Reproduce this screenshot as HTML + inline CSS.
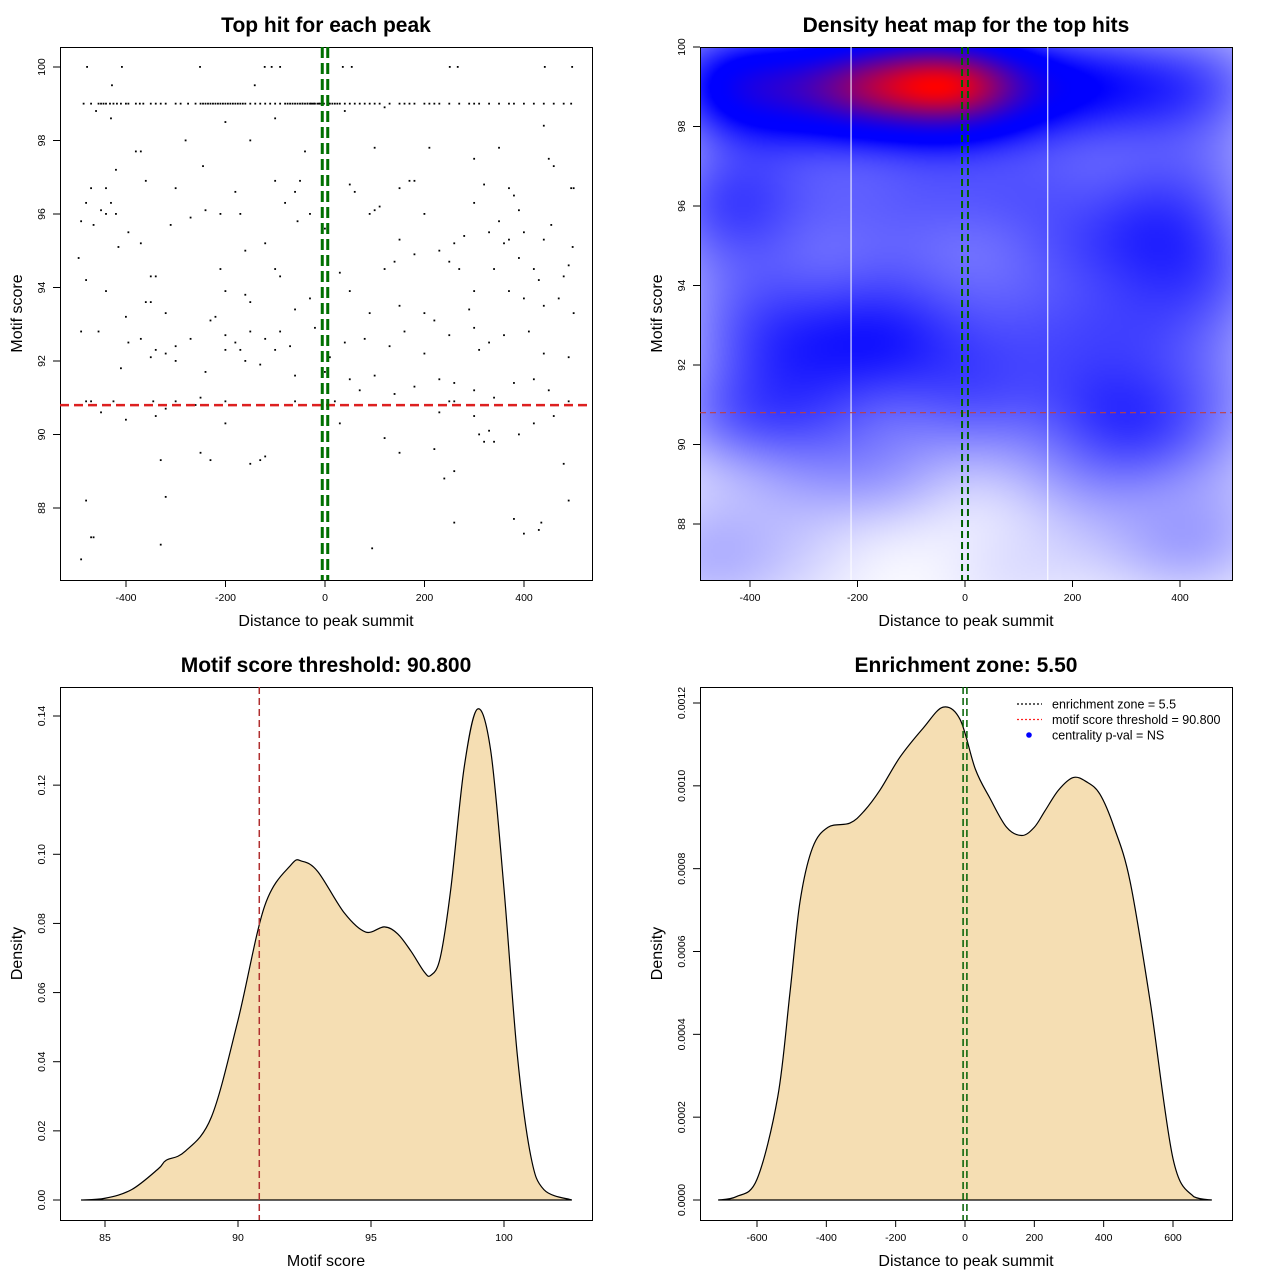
<!DOCTYPE html>
<html><head><meta charset="utf-8">
<style>
html,body{margin:0;padding:0;background:#fff;}
#wrap{position:relative;width:1280px;height:1280px;overflow:hidden;font-family:"Liberation Sans",Arial,sans-serif;}
#heat{position:absolute;left:700px;top:47px;width:532px;height:533px;}
svg{position:absolute;left:0;top:0;}
text{font-family:"Liberation Sans",Arial,sans-serif;}
</style></head>
<body>
<div id="wrap">
<canvas id="heat" width="266" height="267"></canvas>
<svg id="svg" width="1280" height="1280" xmlns="http://www.w3.org/2000/svg"></svg>
</div>
<script>
// ---------- DATA ----------
const scatterX = [-478,-408,-251,-121,-107,-90,36,54,251,267,442,497,-428,-141,
-485,-470,-455,-450,-445,-440,-432,-425,-418,-410,-400,-395,-380,-372,-365,-350,-340,-330,-320,-300,-290,-275,-260,-250,-245,-240,-235,-230,-225,-220,-215,-210,-205,-200,-195,-190,-185,-180,-175,-170,-165,-160,-150,-140,-130,-120,-110,-100,-90,-80,-70,-60,-50,-45,-40,-35,-30,-25,-20,-15,-10,-5,5,10,15,20,25,30,40,50,60,70,80,90,100,110,130,150,160,170,180,200,210,220,230,250,270,290,300,310,330,350,370,380,400,420,440,460,480,495,
-75,-65,-55,-45,-35,-28,-22,-12,-2,8,
-460,-430,-200,-100,40,120,440,
-420,-380,-370,-280,-245,-150,-40,100,210,300,350,450,460,
-480,-470,-440,-430,-360,-300,-180,-100,-50,-60,50,60,110,150,170,180,300,320,370,380,390,500,495,
-490,-465,-450,-440,-420,-395,-310,-270,-240,-210,-170,-80,-55,-30,0,90,100,150,200,260,280,330,350,360,370,400,440,455,498,
-495,-480,-415,-370,-340,-350,-210,-160,-120,-100,-90,30,120,140,180,230,250,270,340,390,420,430,480,490,
-440,-400,-360,-350,-320,-200,-220,-160,-150,-60,-30,50,90,150,200,220,290,300,370,400,440,470,500,
-490,-455,-395,-370,-340,-300,-270,-230,-200,-180,-150,-120,-90,-70,-20,10,40,80,130,160,200,250,300,310,330,360,410,440,490,
-410,-350,-320,-300,-240,-200,-170,-160,-130,-100,-60,0,50,70,100,140,180,230,260,300,340,380,420,450,
-480,-470,-440,-425,-380,-345,-320,-300,-260,-250,-200,-60,-50,-10,20,250,260,300,490,
-450,-400,-340,-200,30,120,230,300,310,320,330,390,420,460,
-330,-250,-230,-150,-130,-120,150,220,240,260,340,480,
-480,-320,-470,-465,-490,-330,95,260,380,400,430,435,490];
const scatterY = [100,100,100,100,100,100,100,100,100,100,100,100,99.5,99.5,
99,99,99,99,99,99,99,99,99,99,99,99,99,99,99,99,99,99,99,99,99,99,99,99,99,99,99,99,99,99,99,99,99,99,99,99,99,99,99,99,99,99,99,99,99,99,99,99,99,99,99,99,99,99,99,99,99,99,99,99,99,99,99,99,99,99,99,99,99,99,99,99,99,99,99,99,99,99,99,99,99,99,99,99,99,99,99,99,99,99,99,99,99,99,99,99,99,99,99,99,
99,99,99,99,99,99,99,99,99,99,
98.8,98.6,98.5,98.6,98.8,98.9,98.4,
97.2,97.7,97.7,98,97.3,98,97.7,97.8,97.8,97.5,97.8,97.5,97.3,
96.3,96.7,96.7,96.3,96.9,96.7,96.6,96.9,96.9,96.6,96.8,96.6,96.2,96.7,96.9,96.9,96.3,96.8,96.7,96.5,96.1,96.7,96.7,
95.8,95.7,96.1,96,96,95.5,95.7,95.9,96.1,96,96,96.3,95.8,96,95.6,96,96.1,95.3,96,95.2,95.4,95.5,95.8,95.2,95.3,95.5,95.3,95.7,95.1,
94.8,94.2,95.1,95.2,94.3,94.3,94.5,95,95.2,94.5,94.3,94.4,94.5,94.7,94.9,95,94.7,94.5,94.5,94.8,94.5,94.2,94.3,94.6,
93.9,93.2,93.6,93.6,93.3,93.9,93.2,93.8,93.6,93.4,93.7,93.9,93.3,93.5,93.3,93.1,93.4,93.9,93.9,93.7,93.5,93.7,93.3,
92.8,92.8,92.5,92.6,92.3,92.4,92.6,93.1,92.7,92.5,92.8,92.6,92.8,92.4,92.9,92.1,92.5,92.6,92.4,92.8,92.2,92.7,92.9,92.3,92.5,92.7,92.8,92.2,92.1,
91.8,92.1,92.2,92,91.7,92.3,92.3,92,91.9,92.3,91.6,91.7,91.5,91.2,91.6,91.1,91.3,91.5,91.4,91.2,91,91.4,91.5,91.2,
90.9,90.9,90.8,90.9,90.8,90.9,90.7,90.9,90.8,91,90.9,90.9,90.8,90.8,90.9,90.9,90.9,90.8,90.9,
90.6,90.4,90.5,90.3,90.3,89.9,90.6,90.5,90,89.8,90.1,90,90.3,90.5,
89.3,89.5,89.3,89.2,89.3,89.4,89.5,89.6,88.8,89,89.8,89.2,
88.2,88.3,87.2,87.2,86.6,87,86.9,87.6,87.7,87.3,87.4,87.6,88.2];

const scoreX = [84.1,85,86,87,87.3,88,89,90,91,92,92.4,93,94,94.8,95.5,96,96.5,97,97.25,97.6,98,98.5,99,99.5,100,100.5,101,101.5,102.55];
const scoreY = [0,0.0005,0.003,0.009,0.0115,0.014,0.024,0.052,0.085,0.097,0.098,0.095,0.083,0.0775,0.079,0.077,0.072,0.066,0.065,0.07,0.09,0.125,0.142,0.13,0.09,0.042,0.013,0.003,0];

const distX = [-712,-660,-600,-540,-505,-476,-440,-395,-332,-290,-245,-187,-120,-63,-14,30,72,120,164,200,231,270,312,350,389,430,476,534,600,660,712];
const distY = [0,0.000008,0.00005,0.00025,0.0005,0.00072,0.00085,0.0009,0.00091,0.00094,0.00099,0.00107,0.00114,0.00119,0.00116,0.00104,0.00097,0.0009,0.00088,0.0009,0.00094,0.00099,0.00102,0.00101,0.00098,0.0009,0.00077,0.00048,0.0001,0.000008,0];

const ticks1X=[-400,-200,0,200,400], ticks1Y=[88,90,92,94,96,98,100];
const ticks2X=[-400,-200,0,200,400], ticks2Y=[88,90,92,94,96,98,100];
const ticks3X=[85,90,95,100], ticks3Y=[0,0.02,0.04,0.06,0.08,0.10,0.12,0.14];
const ticks3YL=["0.00","0.02","0.04","0.06","0.08","0.10","0.12","0.14"];
const ticks4X=[-600,-400,-200,0,200,400,600], ticks4Y=[0,0.0002,0.0004,0.0006,0.0008,0.0010,0.0012];
const ticks4YL=["0.0000","0.0002","0.0004","0.0006","0.0008","0.0010","0.0012"];
const threshold=90.8, zone=5.5;

// ---------- HELPERS ----------
const NS="http://www.w3.org/2000/svg";
const svg=document.getElementById('svg');
function scale(d0,d1,p0,p1){return v=>p0+(v-d0)/(d1-d0)*(p1-p0);}
function mk(tag,attrs,parent){const e=document.createElementNS(NS,tag);for(const k in attrs)e.setAttribute(k,attrs[k]);(parent||svg).appendChild(e);return e;}
function txt(s,attrs,parent){const e=mk('text',attrs,parent);e.textContent=s;return e;}
function spline(pts){let d="M"+pts[0][0]+","+pts[0][1];for(let i=0;i<pts.length-1;i++){const p0=pts[Math.max(0,i-1)],p1=pts[i],p2=pts[i+1],p3=pts[Math.min(pts.length-1,i+2)];const c1=[p1[0]+(p2[0]-p0[0])/6,Math.min(1200,p1[1]+(p2[1]-p0[1])/6)],c2=[p2[0]-(p3[0]-p1[0])/6,Math.min(1200,p2[1]-(p3[1]-p1[1])/6)];d+=" C"+c1[0]+","+c1[1]+" "+c2[0]+","+c2[1]+" "+p2[0]+","+p2[1];}return d;}

function frame(box,title,xlab,ylab,xt,xtl,yt,ytl,sx,sy,prefix){
  const g=mk('g',{});
  
  
  const r=mk('rect',{x:box[0]+0.5,y:box[1]+0.5,width:box[2]-box[0],height:box[3]-box[1],fill:'none',stroke:'#000','stroke-width':1},g);
  
  
  const t=txt(title,{x:(box[0]+box[2])/2,y:box[1]-15,'text-anchor':'middle','font-size':21,'font-weight':'bold'},g);
  
  
  const xl=txt(xlab,{x:(box[0]+box[2])/2,y:box[3]+46,'text-anchor':'middle','font-size':16},g);
  
  
  const cy=(box[1]+box[3])/2;
  const yl=txt(ylab,{x:box[0]-38,y:cy,'text-anchor':'middle','font-size':16,transform:'rotate(-90 '+(box[0]-38)+' '+cy+')'},g);
  
  
  const xa=mk('g',{},g);
  
  
  const x0=sx(xt[0]),x1=sx(xt[xt.length-1]);
  mk('line',{x1:x0,x2:x1,y1:box[3]+0.5,y2:box[3]+0.5,stroke:'#000'},xa);
  xt.forEach((v,i)=>{const x=sx(v);mk('line',{x1:x,x2:x,y1:box[3],y2:box[3]+7,stroke:'#000'},xa);
    const l=txt(xtl[i],{x:x,y:box[3]+21,'text-anchor':'middle','font-size':10.5},xa);
    
    });
  const ya=mk('g',{},g);
  
  
  mk('line',{x1:box[0]+0.5,x2:box[0]+0.5,y1:sy(yt[0]),y2:sy(yt[yt.length-1]),stroke:'#000'},ya);
  yt.forEach((v,i)=>{const y=sy(v);mk('line',{x1:box[0]-7,x2:box[0],y1:y,y2:y,stroke:'#000'},ya);
    const lx=box[0]-15;
    const l=txt(ytl[i],{x:lx,y:y,'text-anchor':'middle','font-size':10.5,transform:'rotate(-90 '+lx+' '+y+')'},ya);
    
    });
  return g;
}

// ---------- PANEL 1 ----------
const b1=[60,47,592,580];
const sx1=scale(-400,400,126,524), sy1=scale(88,100,508,67);
const g1=frame(b1,'Top hit for each peak','Distance to peak summit','Motif score',ticks1X,ticks1X.map(String),ticks1Y,ticks1Y.map(String),sx1,sy1,'scatter');
const pts=mk('g',{},g1);


for(let i=0;i<scatterX.length;i++){
  const c=mk('rect',{x:sx1(scatterX[i])-1,y:sy1(scatterY[i])-1,width:1.8,height:1.8,fill:'#000'},pts);
  
  
}
const th1=mk('line',{x1:b1[0],x2:b1[2],y1:sy1(threshold),y2:sy1(threshold),stroke:'#dd2020','stroke-width':2.5,'stroke-dasharray':'9,5'},g1);


[-zone,zone].forEach(v=>{const l=mk('line',{x1:sx1(v),x2:sx1(v),y1:b1[1],y2:b1[3],stroke:'#007000','stroke-width':3,'stroke-dasharray':'11,5'},g1);
  
  });

// ---------- PANEL 2 (heatmap) ----------
const b2=[700,47,1232,580];
const sx2=scale(-400,400,750,1180), sy2=scale(88,100,524,47);
(function(){
  const cv=document.getElementById('heat'),ctx=cv.getContext('2d');
  const W=cv.width,H=cv.height,img=ctx.createImageData(W,H);
  const bx=90,by=0.9,dens=new Float32Array(W*H);let mx=0;
  const xinv=p=>-400+(p-750)/430*800, yinv=p=>88+(524-p)/477*12;
  for(let j=0;j<H;j++){const yv=yinv(b2[1]+j*2+1);
    for(let i=0;i<W;i++){const xv=xinv(b2[0]+i*2+1);let s=0;
      for(let k=0;k<scatterX.length;k++){const dx=(xv-scatterX[k])/bx,dy=(yv-scatterY[k])/by;const q=dx*dx+dy*dy;if(q<20)s+=Math.exp(-0.5*q);}
      dens[j*W+i]=s;if(s>mx)mx=s;}}
  for(let n=0;n<W*H;n++){let t=Math.pow(dens[n]/mx,0.75);let r,g,b;
    const m=0.55;
    if(t<m){const u=Math.min(1,t/m*1.08);r=255*(1-u);g=255*(1-u);b=255;}else{const u=Math.pow((t-m)/(1-m),1.6);r=255*u;g=0;b=255*(1-u);}
    img.data[n*4]=r;img.data[n*4+1]=g;img.data[n*4+2]=b;img.data[n*4+3]=255;}
  ctx.putImageData(img,0,0);
})();
const g2=frame(b2,'Density heat map for the top hits','Distance to peak summit','Motif score',ticks2X,ticks2X.map(String),ticks2Y,ticks2Y.map(String),sx2,sy2,'heatmap');
[-212,154].forEach(v=>{const l=mk('line',{x1:sx2(v),x2:sx2(v),y1:b2[1],y2:b2[3],stroke:'#fff','stroke-width':1},g2);
  
  });
const th2=mk('line',{x1:b2[0],x2:b2[2],y1:sy2(threshold),y2:sy2(threshold),stroke:'#c04040','stroke-width':1.2,'stroke-dasharray':'6,4'},g2);


[-zone,zone].forEach(v=>{const l=mk('line',{x1:sx2(v),x2:sx2(v),y1:b2[1],y2:b2[3],stroke:'#006000','stroke-width':2,'stroke-dasharray':'7,4'},g2);
  
  });

// ---------- PANEL 3 ----------
const b3=[60,687,592,1220];
const sx3=scale(85,100,105,504), sy3=scale(0,0.14,1200,716);
const g3=frame(b3,'Motif score threshold: 90.800','Motif score','Density',ticks3X,ticks3X.map(String),ticks3Y,ticks3YL,sx3,sy3,'score-density');
const p3=scoreX.map((v,i)=>[sx3(v),Math.min(sy3(0),sy3(scoreY[i]))]);
const c3=mk('path',{d:spline(p3)+" Z",fill:'#F5DEB3',stroke:'#000','stroke-width':1.2},g3);


const t3=mk('line',{x1:sx3(threshold),x2:sx3(threshold),y1:b3[1],y2:b3[3],stroke:'#b03030','stroke-width':1.5,'stroke-dasharray':'7,4'},g3);



// ---------- PANEL 4 ----------
const b4=[700,687,1232,1220];
const sx4=scale(-600,600,757,1173), sy4=scale(0,0.0012,1200,703);
const g4=frame(b4,'Enrichment zone: 5.50','Distance to peak summit','Density',ticks4X,ticks4X.map(String),ticks4Y,ticks4YL,sx4,sy4,'distance-density');
const p4=distX.map((v,i)=>[sx4(v),Math.min(sy4(0),sy4(distY[i]))]);
const c4=mk('path',{d:spline(p4)+" Z",fill:'#F5DEB3',stroke:'#000','stroke-width':1.2},g4);


[-zone,zone].forEach(v=>{const l=mk('line',{x1:sx4(v),x2:sx4(v),y1:b4[1],y2:b4[3],stroke:'#006000','stroke-width':1.5,'stroke-dasharray':'7,4'},g4);
  
  });
const lg=mk('g',{},g4);


[['enrichment zone = 5.5','#000','line'],['motif score threshold = 90.800','#ff2020','line'],['centrality p-val = NS','#0000ff','dot']].forEach((e,i)=>{
  const y=704+i*15.5;
  const it=mk('g',{},lg);
  
  
  if(e[2]==='line')mk('line',{x1:1017,x2:1042,y1:y,y2:y,stroke:e[1],'stroke-width':1.3,'stroke-dasharray':'2,2'},it);
  else mk('circle',{cx:1029,cy:y,r:2.8,fill:e[1]},it);
  txt(e[0],{x:1052,y:y+4.5,'font-size':12.5},it);
});
</script>
</body></html>
